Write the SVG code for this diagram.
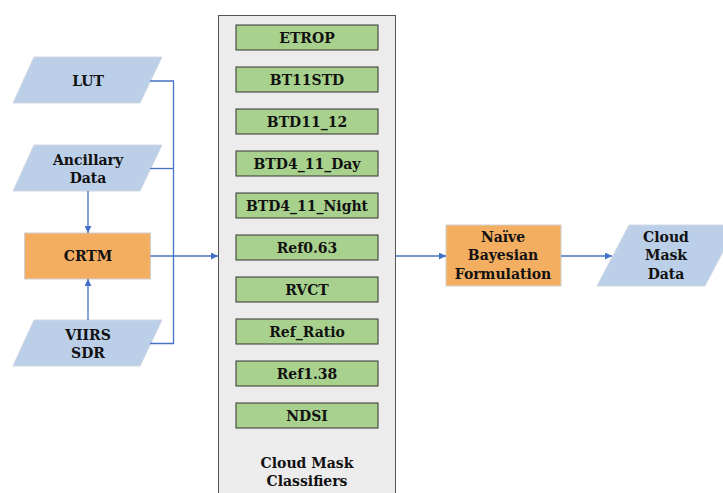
<svg xmlns="http://www.w3.org/2000/svg" width="723" height="493" viewBox="0 0 723 493">
<defs>
<style>
.t{font-family:"DejaVu Serif","Liberation Serif",serif;font-weight:bold;font-size:14px;fill:#111;text-anchor:middle}
.para{fill:#bccfe8;stroke:#d0d8e4;stroke-width:1}
.org{fill:#f3ae62;stroke:#d0d0d0;stroke-width:1}
.grn{fill:#a9d18e;stroke:#333;stroke-width:1}
.ln{fill:none;stroke:#4472c4;stroke-width:1.3}
</style>
<marker id="ah" viewBox="0 0 10 10" refX="10" refY="5" markerWidth="7" markerHeight="7" markerUnits="userSpaceOnUse" orient="auto">
<path d="M0,0 L10,5 L0,10 z" fill="#4472c4"/>
</marker>
</defs>
<rect width="723" height="493" fill="#fff"/>
<g id="classifiers">
<rect x="218.5" y="15.5" width="177" height="480" fill="#ececec" stroke="#555" stroke-width="1"/>
<text class="t" x="307" y="468">Cloud Mask</text>
<text class="t" x="307" y="486">Classifiers</text>
</g>
<g id="etrop"><rect class="grn" x="236" y="25" width="142" height="25"/><text class="t" x="307" y="42.5">ETROP</text></g>
<g id="bt11std"><rect class="grn" x="236" y="67" width="142" height="25"/><text class="t" x="307" y="84.5">BT11STD</text></g>
<g id="btd11_12"><rect class="grn" x="236" y="109" width="142" height="25"/><text class="t" x="307" y="126.5">BTD11_12</text></g>
<g id="btd4_11_day"><rect class="grn" x="236" y="151" width="142" height="25"/><text class="t" x="307" y="168.5">BTD4_11_Day</text></g>
<g id="btd4_11_night"><rect class="grn" x="236" y="193" width="142" height="25"/><text class="t" x="307" y="210.5">BTD4_11_Night</text></g>
<g id="ref063"><rect class="grn" x="236" y="235" width="142" height="25"/><text class="t" x="307" y="252.5">Ref0.63</text></g>
<g id="rvct"><rect class="grn" x="236" y="277" width="142" height="25"/><text class="t" x="307" y="294.5">RVCT</text></g>
<g id="ref_ratio"><rect class="grn" x="236" y="319" width="142" height="25"/><text class="t" x="307" y="336.5">Ref_Ratio</text></g>
<g id="ref138"><rect class="grn" x="236" y="361" width="142" height="25"/><text class="t" x="307" y="378.5">Ref1.38</text></g>
<g id="ndsi"><rect class="grn" x="236" y="403" width="142" height="25"/><text class="t" x="307" y="420.5">NDSI</text></g>

<g id="lut"><polygon class="para" points="34,57 162,57 140,103 13,103"/><text class="t" x="88" y="85.5">LUT</text></g>
<g id="ancillary"><polygon class="para" points="34,145 162,145 140,191 13,191"/><text class="t" x="88" y="164.5">Ancillary</text><text class="t" x="88" y="182.5">Data</text></g>
<g id="crtm"><rect class="org" x="24.5" y="233" width="126" height="46"/><text class="t" x="88" y="261">CRTM</text></g>
<g id="viirs"><polygon class="para" points="34,320 162,320 140,366 13,366"/><text class="t" x="88" y="339.5">VIIRS</text><text class="t" x="88" y="357.5">SDR</text></g>
<g id="naive"><rect class="org" x="446" y="225" width="115" height="61"/><text class="t" x="503" y="241.5">Naïve</text><text class="t" x="503" y="260">Bayesian</text><text class="t" x="503" y="278.5">Formulation</text></g>
<g id="cloudmaskdata"><polygon class="para" points="629,225 737,225 705,286 597,286"/><text class="t" x="666" y="241.5">Cloud</text><text class="t" x="666" y="260">Mask</text><text class="t" x="666" y="278.5">Data</text></g>

<g id="connectors">
<polyline class="ln" points="150,81 173.5,81 173.5,343.5 150,343.5"/>
<line class="ln" x1="150" y1="168.5" x2="173.5" y2="168.5"/>
<line class="ln" x1="150.5" y1="256" x2="218" y2="256" marker-end="url(#ah)"/>
<line class="ln" x1="88" y1="191" x2="88" y2="233" marker-end="url(#ah)"/>
<line class="ln" x1="88" y1="320" x2="88" y2="279" marker-end="url(#ah)"/>
<line class="ln" x1="396" y1="256" x2="446" y2="256" marker-end="url(#ah)"/>
<line class="ln" x1="561" y1="256" x2="612" y2="256" marker-end="url(#ah)"/>
</g>
</svg>
